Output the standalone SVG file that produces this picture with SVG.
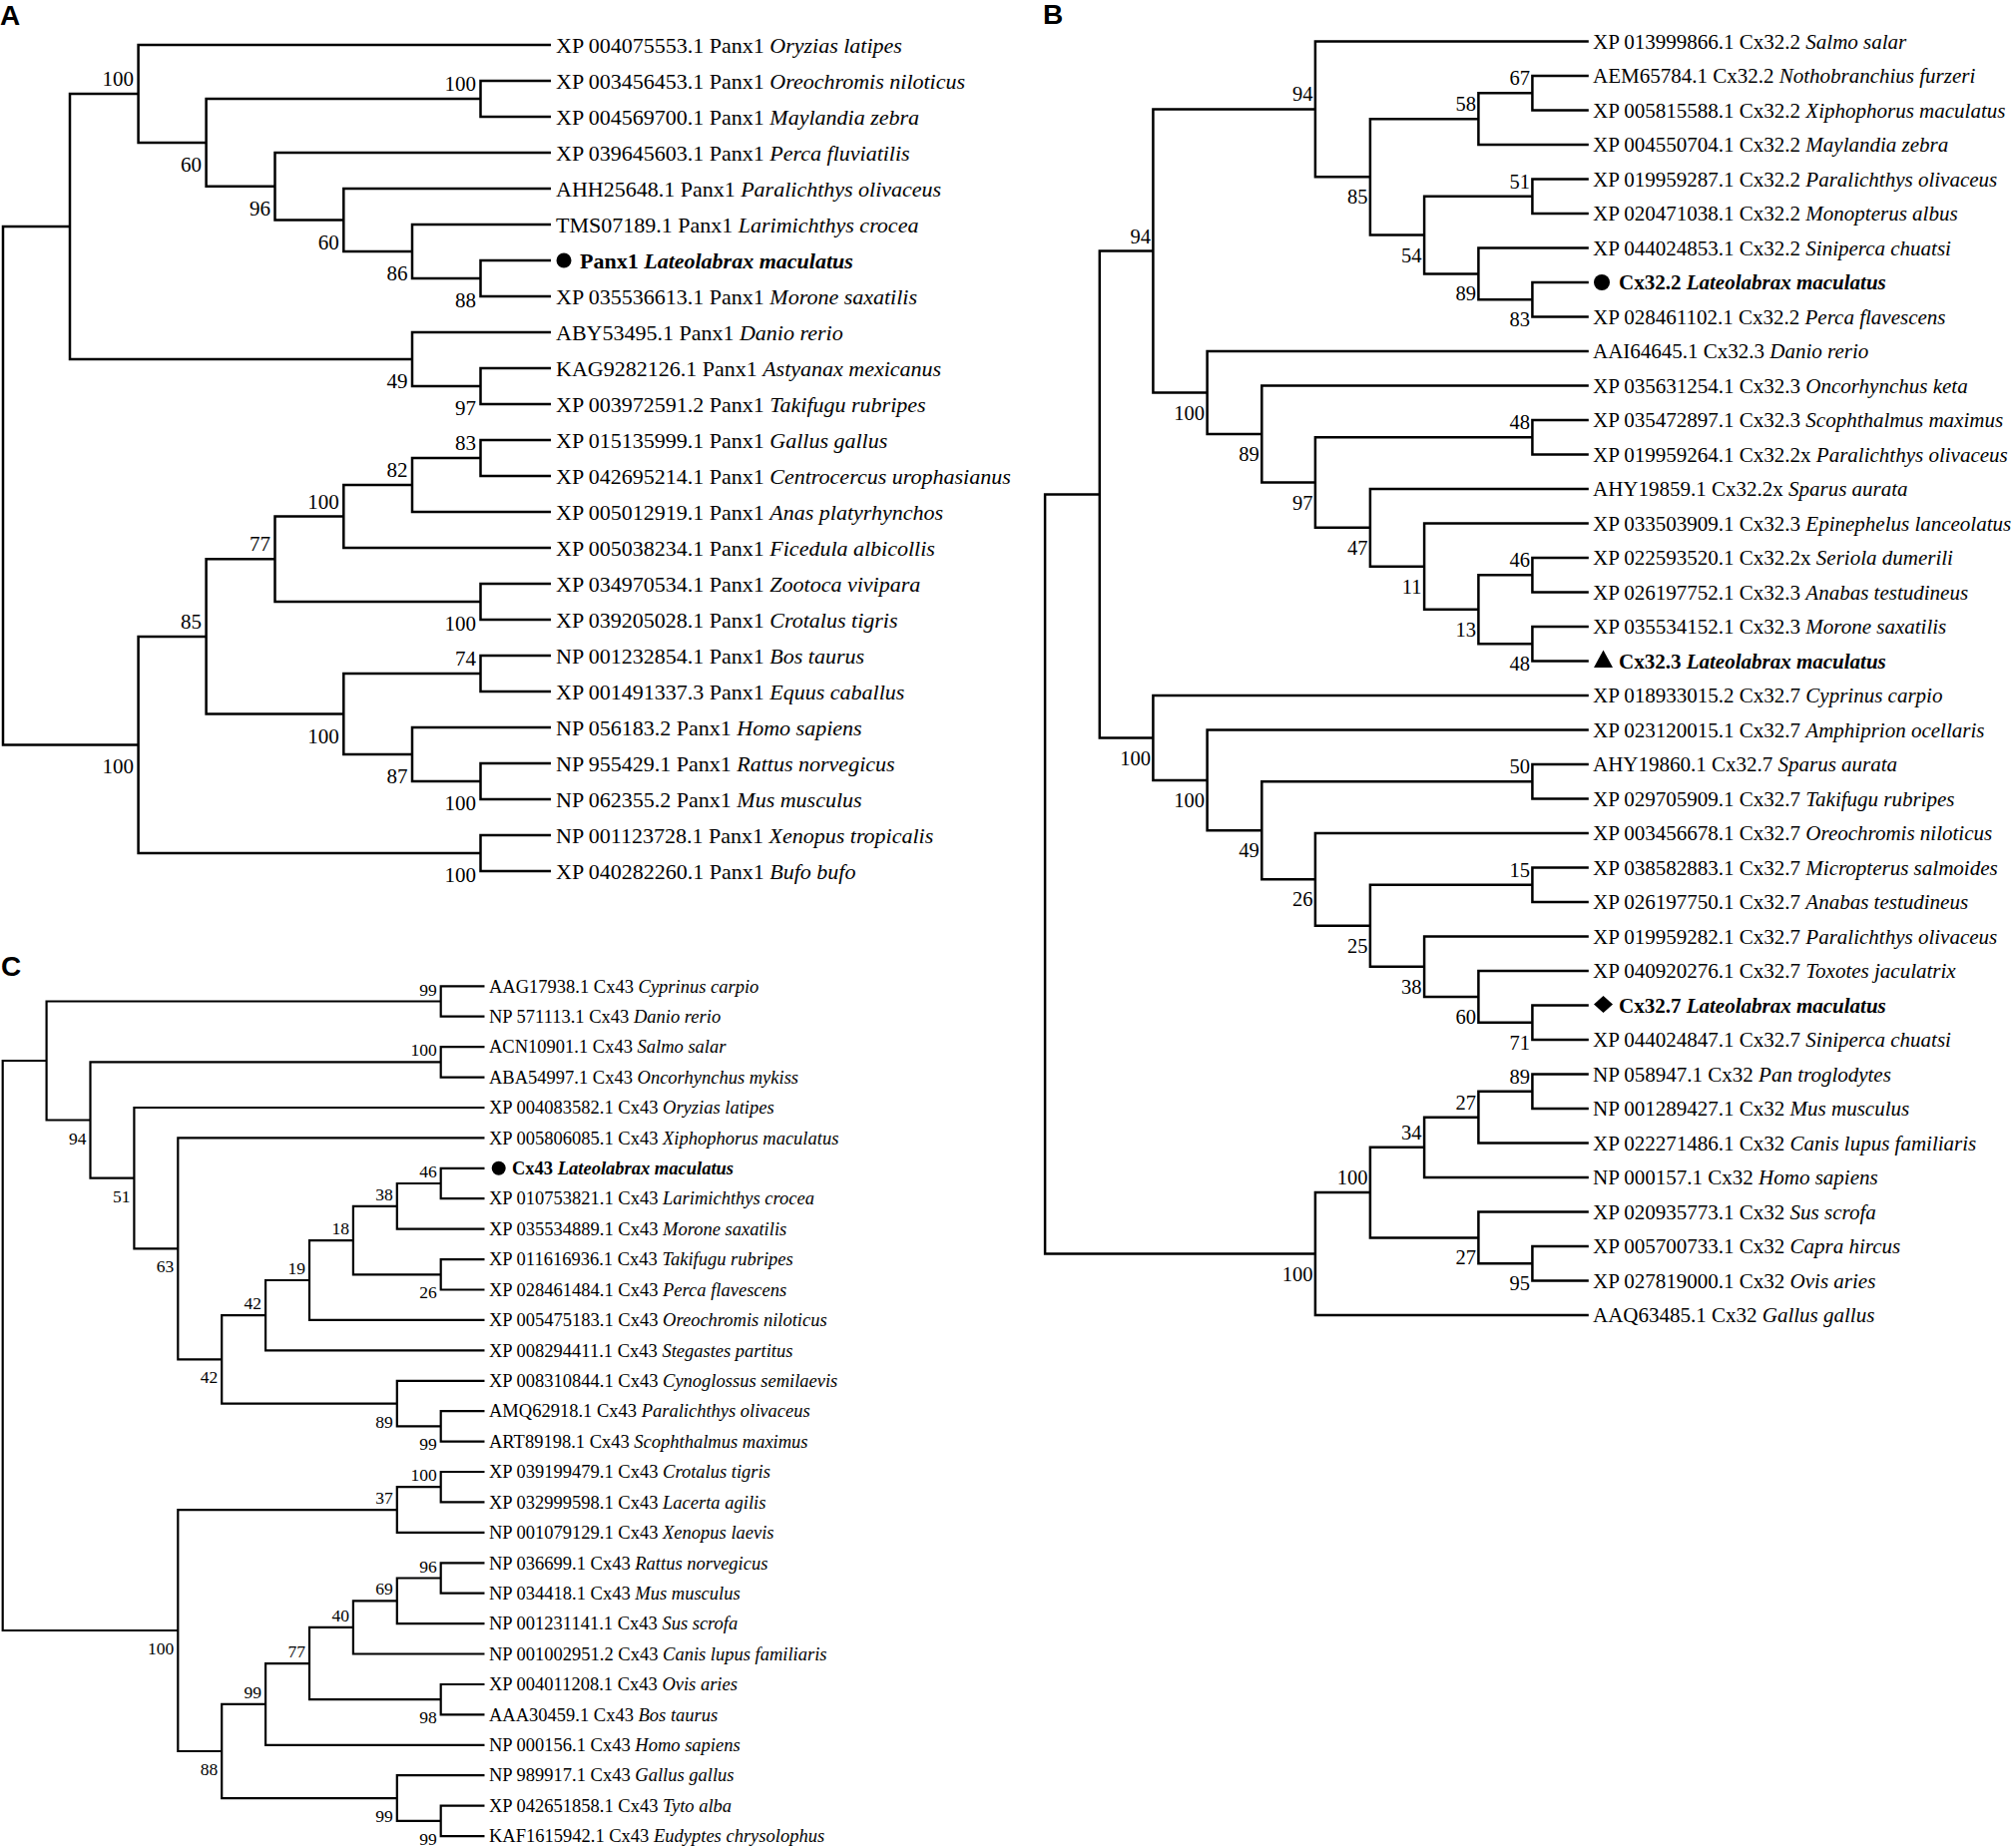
<svg xmlns="http://www.w3.org/2000/svg" width="2020" height="1850" viewBox="0 0 2020 1850">
<style>
.e{fill:none;stroke:#000;stroke-width:2.5;stroke-linejoin:miter}
.ec{fill:none;stroke:#000;stroke-width:2.2}
text{font-family:"Liberation Serif","Times New Roman",serif;fill:#000}
.la{font-size:22px}.lb{font-size:21px}.lc{font-size:18.5px}
.ba{font-size:21px;text-anchor:end}.bb{font-size:20.5px;text-anchor:end}.bc{font-size:17.5px;text-anchor:end}
.i{font-style:italic}.b{font-weight:bold}
.p{font-family:"Liberation Sans",Arial,sans-serif;font-weight:bold;font-size:28px}
</style>
<rect width="2020" height="1850" fill="#fff"/>
<text class="p" x="0" y="25">A</text>
<text class="p" x="1045" y="24">B</text>
<text class="p" x="1" y="978">C</text>

<g id="treeA-connectors">
<path class="e" d="M552 261H481.5V297H552"/>
<path class="e" d="M552 225H413V279H481.5"/>
<path class="e" d="M552 189H344.3V252H413"/>
<path class="e" d="M552 153H275.5V220.5H344.3"/>
<path class="e" d="M552 81H481.5V117H552"/>
<path class="e" d="M481.5 99H206.6V186.75H275.5"/>
<path class="e" d="M552 45H138.6V142.88H206.6"/>
<path class="e" d="M552 369H481.5V405H552"/>
<path class="e" d="M552 333H413V387H481.5"/>
<path class="e" d="M138.6 93.94H70V360H413"/>
<path class="e" d="M552 441H481.5V477H552"/>
<path class="e" d="M481.5 459H413V513H552"/>
<path class="e" d="M413 486H344.3V549H552"/>
<path class="e" d="M552 585H481.5V621H552"/>
<path class="e" d="M344.3 517.5H275.5V603H481.5"/>
<path class="e" d="M552 657H481.5V693H552"/>
<path class="e" d="M552 765H481.5V801H552"/>
<path class="e" d="M552 729H413V783H481.5"/>
<path class="e" d="M481.5 675H344.3V756H413"/>
<path class="e" d="M275.5 560.25H206.6V715.5H344.3"/>
<path class="e" d="M552 837H481.5V873H552"/>
<path class="e" d="M206.6 637.88H138.6V855H481.5"/>
<path class="e" d="M70 226.97H3V746.44H138.6"/>
</g>
<g id="treeA-support">
<text class="ba" x="134.1" y="85.9">100</text>
<text class="ba" x="202.1" y="171.9">60</text>
<text class="ba" x="477" y="91">100</text>
<text class="ba" x="271" y="215.75">96</text>
<text class="ba" x="339.8" y="249.5">60</text>
<text class="ba" x="408.5" y="281">86</text>
<text class="ba" x="477" y="308">88</text>
<text class="ba" x="408.5" y="389">49</text>
<text class="ba" x="477" y="416">97</text>
<text class="ba" x="477" y="451">83</text>
<text class="ba" x="408.5" y="478">82</text>
<text class="ba" x="339.8" y="509.5">100</text>
<text class="ba" x="271" y="552.25">77</text>
<text class="ba" x="202.1" y="629.9">85</text>
<text class="ba" x="477" y="632">100</text>
<text class="ba" x="477" y="667">74</text>
<text class="ba" x="339.8" y="744.5">100</text>
<text class="ba" x="408.5" y="785">87</text>
<text class="ba" x="477" y="812">100</text>
<text class="ba" x="477" y="884">100</text>
<text class="ba" x="134.1" y="775.4">100</text>
</g>
<g id="treeA-tips">
<g id="a0"><text class="la" x="557" y="52.5">XP 004075553.1 Panx1 <tspan class="i">Oryzias latipes</tspan></text></g>
<g id="a1"><text class="la" x="557" y="88.5">XP 003456453.1 Panx1 <tspan class="i">Oreochromis niloticus</tspan></text></g>
<g id="a2"><text class="la" x="557" y="124.5">XP 004569700.1 Panx1 <tspan class="i">Maylandia zebra</tspan></text></g>
<g id="a3"><text class="la" x="557" y="160.5">XP 039645603.1 Panx1 <tspan class="i">Perca fluviatilis</tspan></text></g>
<g id="a4"><text class="la" x="557" y="196.5">AHH25648.1 Panx1 <tspan class="i">Paralichthys olivaceus</tspan></text></g>
<g id="a5"><text class="la" x="557" y="232.5">TMS07189.1 Panx1 <tspan class="i">Larimichthys crocea</tspan></text></g>
<g id="a6"><circle cx="565" cy="261" r="7.5" fill="#000"/><text class="la b" x="581" y="268.5">Panx1 <tspan class="i">Lateolabrax maculatus</tspan></text></g>
<g id="a7"><text class="la" x="557" y="304.5">XP 035536613.1 Panx1 <tspan class="i">Morone saxatilis</tspan></text></g>
<g id="a8"><text class="la" x="557" y="340.5">ABY53495.1 Panx1 <tspan class="i">Danio rerio</tspan></text></g>
<g id="a9"><text class="la" x="557" y="376.5">KAG9282126.1 Panx1 <tspan class="i">Astyanax mexicanus</tspan></text></g>
<g id="a10"><text class="la" x="557" y="412.5">XP 003972591.2 Panx1 <tspan class="i">Takifugu rubripes</tspan></text></g>
<g id="a11"><text class="la" x="557" y="448.5">XP 015135999.1 Panx1 <tspan class="i">Gallus gallus</tspan></text></g>
<g id="a12"><text class="la" x="557" y="484.5">XP 042695214.1 Panx1 <tspan class="i">Centrocercus urophasianus</tspan></text></g>
<g id="a13"><text class="la" x="557" y="520.5">XP 005012919.1 Panx1 <tspan class="i">Anas platyrhynchos</tspan></text></g>
<g id="a14"><text class="la" x="557" y="556.5">XP 005038234.1 Panx1 <tspan class="i">Ficedula albicollis</tspan></text></g>
<g id="a15"><text class="la" x="557" y="592.5">XP 034970534.1 Panx1 <tspan class="i">Zootoca vivipara</tspan></text></g>
<g id="a16"><text class="la" x="557" y="628.5">XP 039205028.1 Panx1 <tspan class="i">Crotalus tigris</tspan></text></g>
<g id="a17"><text class="la" x="557" y="664.5">NP 001232854.1 Panx1 <tspan class="i">Bos taurus</tspan></text></g>
<g id="a18"><text class="la" x="557" y="700.5">XP 001491337.3 Panx1 <tspan class="i">Equus caballus</tspan></text></g>
<g id="a19"><text class="la" x="557" y="736.5">NP 056183.2 Panx1 <tspan class="i">Homo sapiens</tspan></text></g>
<g id="a20"><text class="la" x="557" y="772.5">NP 955429.1 Panx1 <tspan class="i">Rattus norvegicus</tspan></text></g>
<g id="a21"><text class="la" x="557" y="808.5">NP 062355.2 Panx1 <tspan class="i">Mus musculus</tspan></text></g>
<g id="a22"><text class="la" x="557" y="844.5">NP 001123728.1 Panx1 <tspan class="i">Xenopus tropicalis</tspan></text></g>
<g id="a23"><text class="la" x="557" y="880.5">XP 040282260.1 Panx1 <tspan class="i">Bufo bufo</tspan></text></g>
</g>

<g id="treeB-connectors">
<path class="e" d="M1591.8 76H1535.4V110.5H1591.8"/>
<path class="e" d="M1535.4 93.25H1481.4V145H1591.8"/>
<path class="e" d="M1591.8 179.5H1535.4V214H1591.8"/>
<path class="e" d="M1591.8 283H1535.4V317.5H1591.8"/>
<path class="e" d="M1591.8 248.5H1481.4V300.25H1535.4"/>
<path class="e" d="M1535.4 196.75H1427.1V274.38H1481.4"/>
<path class="e" d="M1481.4 119.13H1372.9V235.56H1427.1"/>
<path class="e" d="M1591.8 41.5H1317.9V177.34H1372.9"/>
<path class="e" d="M1591.8 421H1535.4V455.5H1591.8"/>
<path class="e" d="M1591.8 559H1535.4V593.5H1591.8"/>
<path class="e" d="M1591.8 628H1535.4V662.5H1591.8"/>
<path class="e" d="M1535.4 576.25H1481.4V645.25H1535.4"/>
<path class="e" d="M1591.8 524.5H1427.1V610.75H1481.4"/>
<path class="e" d="M1591.8 490H1372.9V567.63H1427.1"/>
<path class="e" d="M1535.4 438.25H1317.9V528.81H1372.9"/>
<path class="e" d="M1591.8 386.5H1264.3V483.53H1317.9"/>
<path class="e" d="M1591.8 352H1209.6V435.02H1264.3"/>
<path class="e" d="M1317.9 109.42H1155.4V393.51H1209.6"/>
<path class="e" d="M1591.8 766H1535.4V800.5H1591.8"/>
<path class="e" d="M1591.8 869.5H1535.4V904H1591.8"/>
<path class="e" d="M1591.8 1007.5H1535.4V1042H1591.8"/>
<path class="e" d="M1591.8 973H1481.4V1024.75H1535.4"/>
<path class="e" d="M1591.8 938.5H1427.1V998.88H1481.4"/>
<path class="e" d="M1535.4 886.75H1372.9V968.69H1427.1"/>
<path class="e" d="M1591.8 835H1317.9V927.72H1372.9"/>
<path class="e" d="M1535.4 783.25H1264.3V881.36H1317.9"/>
<path class="e" d="M1591.8 731.5H1209.6V832.3H1264.3"/>
<path class="e" d="M1591.8 697H1155.4V781.9H1209.6"/>
<path class="e" d="M1155.4 251.46H1101.8V739.45H1155.4"/>
<path class="e" d="M1591.8 1076.5H1535.4V1111H1591.8"/>
<path class="e" d="M1535.4 1093.75H1481.4V1145.5H1591.8"/>
<path class="e" d="M1481.4 1119.63H1427.1V1180H1591.8"/>
<path class="e" d="M1591.8 1249H1535.4V1283.5H1591.8"/>
<path class="e" d="M1591.8 1214.5H1481.4V1266.25H1535.4"/>
<path class="e" d="M1427.1 1149.81H1372.9V1240.38H1481.4"/>
<path class="e" d="M1372.9 1195.09H1317.9V1318H1591.8"/>
<path class="e" d="M1101.8 495.46H1047.1V1256.55H1317.9"/>
</g>
<g id="treeB-support">
<text class="bb" x="1315.4" y="101.4">94</text>
<text class="bb" x="1532.9" y="85.25">67</text>
<text class="bb" x="1478.9" y="111.1">58</text>
<text class="bb" x="1370.4" y="204.3">85</text>
<text class="bb" x="1532.9" y="188.75">51</text>
<text class="bb" x="1424.6" y="262.6">54</text>
<text class="bb" x="1478.9" y="301.4">89</text>
<text class="bb" x="1532.9" y="327.25">83</text>
<text class="bb" x="1152.9" y="243.5">94</text>
<text class="bb" x="1207.1" y="420.5">100</text>
<text class="bb" x="1261.8" y="462">89</text>
<text class="bb" x="1532.9" y="430.25">48</text>
<text class="bb" x="1315.4" y="510.5">97</text>
<text class="bb" x="1370.4" y="555.8">47</text>
<text class="bb" x="1532.9" y="568.25">46</text>
<text class="bb" x="1424.6" y="594.6">11</text>
<text class="bb" x="1478.9" y="637.75">13</text>
<text class="bb" x="1532.9" y="672.25">48</text>
<text class="bb" x="1152.9" y="766.5">100</text>
<text class="bb" x="1207.1" y="808.9">100</text>
<text class="bb" x="1532.9" y="775.25">50</text>
<text class="bb" x="1261.8" y="859.3">49</text>
<text class="bb" x="1315.4" y="908.4">26</text>
<text class="bb" x="1532.9" y="878.75">15</text>
<text class="bb" x="1370.4" y="954.7">25</text>
<text class="bb" x="1424.6" y="995.7">38</text>
<text class="bb" x="1478.9" y="1025.9">60</text>
<text class="bb" x="1532.9" y="1051.75">71</text>
<text class="bb" x="1532.9" y="1085.75">89</text>
<text class="bb" x="1478.9" y="1111.6">27</text>
<text class="bb" x="1424.6" y="1141.8">34</text>
<text class="bb" x="1370.4" y="1187.1">100</text>
<text class="bb" x="1478.9" y="1267.4">27</text>
<text class="bb" x="1532.9" y="1293.25">95</text>
<text class="bb" x="1315.4" y="1283.55">100</text>
</g>
<g id="treeB-tips">
<g id="b0"><text class="lb" x="1596" y="48.5">XP 013999866.1 Cx32.2 <tspan class="i">Salmo salar</tspan></text></g>
<g id="b1"><text class="lb" x="1596" y="83">AEM65784.1 Cx32.2 <tspan class="i">Nothobranchius furzeri</tspan></text></g>
<g id="b2"><text class="lb" x="1596" y="117.5">XP 005815588.1 Cx32.2 <tspan class="i">Xiphophorus maculatus</tspan></text></g>
<g id="b3"><text class="lb" x="1596" y="152">XP 004550704.1 Cx32.2 <tspan class="i">Maylandia zebra</tspan></text></g>
<g id="b4"><text class="lb" x="1596" y="186.5">XP 019959287.1 Cx32.2 <tspan class="i">Paralichthys olivaceus</tspan></text></g>
<g id="b5"><text class="lb" x="1596" y="221">XP 020471038.1 Cx32.2 <tspan class="i">Monopterus albus</tspan></text></g>
<g id="b6"><text class="lb" x="1596" y="255.5">XP 044024853.1 Cx32.2 <tspan class="i">Siniperca chuatsi</tspan></text></g>
<g id="b7"><circle cx="1605" cy="283" r="8" fill="#000"/><text class="lb b" x="1622" y="290">Cx32.2 <tspan class="i">Lateolabrax maculatus</tspan></text></g>
<g id="b8"><text class="lb" x="1596" y="324.5">XP 028461102.1 Cx32.2 <tspan class="i">Perca flavescens</tspan></text></g>
<g id="b9"><text class="lb" x="1596" y="359">AAI64645.1 Cx32.3 <tspan class="i">Danio rerio</tspan></text></g>
<g id="b10"><text class="lb" x="1596" y="393.5">XP 035631254.1 Cx32.3 <tspan class="i">Oncorhynchus keta</tspan></text></g>
<g id="b11"><text class="lb" x="1596" y="428">XP 035472897.1 Cx32.3 <tspan class="i">Scophthalmus maximus</tspan></text></g>
<g id="b12"><text class="lb" x="1596" y="462.5">XP 019959264.1 Cx32.2x <tspan class="i">Paralichthys olivaceus</tspan></text></g>
<g id="b13"><text class="lb" x="1596" y="497">AHY19859.1 Cx32.2x <tspan class="i">Sparus aurata</tspan></text></g>
<g id="b14"><text class="lb" x="1596" y="531.5">XP 033503909.1 Cx32.3 <tspan class="i">Epinephelus lanceolatus</tspan></text></g>
<g id="b15"><text class="lb" x="1596" y="566">XP 022593520.1 Cx32.2x <tspan class="i">Seriola dumerili</tspan></text></g>
<g id="b16"><text class="lb" x="1596" y="600.5">XP 026197752.1 Cx32.3 <tspan class="i">Anabas testudineus</tspan></text></g>
<g id="b17"><text class="lb" x="1596" y="635">XP 035534152.1 Cx32.3 <tspan class="i">Morone saxatilis</tspan></text></g>
<g id="b18"><polygon points="1597,669 1616,669 1606.5,651.5" fill="#000"/><text class="lb b" x="1622" y="669.5">Cx32.3 <tspan class="i">Lateolabrax maculatus</tspan></text></g>
<g id="b19"><text class="lb" x="1596" y="704">XP 018933015.2 Cx32.7 <tspan class="i">Cyprinus carpio</tspan></text></g>
<g id="b20"><text class="lb" x="1596" y="738.5">XP 023120015.1 Cx32.7 <tspan class="i">Amphiprion ocellaris</tspan></text></g>
<g id="b21"><text class="lb" x="1596" y="773">AHY19860.1 Cx32.7 <tspan class="i">Sparus aurata</tspan></text></g>
<g id="b22"><text class="lb" x="1596" y="807.5">XP 029705909.1 Cx32.7 <tspan class="i">Takifugu rubripes</tspan></text></g>
<g id="b23"><text class="lb" x="1596" y="842">XP 003456678.1 Cx32.7 <tspan class="i">Oreochromis niloticus</tspan></text></g>
<g id="b24"><text class="lb" x="1596" y="876.5">XP 038582883.1 Cx32.7 <tspan class="i">Micropterus salmoides</tspan></text></g>
<g id="b25"><text class="lb" x="1596" y="911">XP 026197750.1 Cx32.7 <tspan class="i">Anabas testudineus</tspan></text></g>
<g id="b26"><text class="lb" x="1596" y="945.5">XP 019959282.1 Cx32.7 <tspan class="i">Paralichthys olivaceus</tspan></text></g>
<g id="b27"><text class="lb" x="1596" y="980">XP 040920276.1 Cx32.7 <tspan class="i">Toxotes jaculatrix</tspan></text></g>
<g id="b28"><polygon points="1606.5,998 1616,1006.5 1606.5,1015 1597,1006.5" fill="#000"/><text class="lb b" x="1622" y="1014.5">Cx32.7 <tspan class="i">Lateolabrax maculatus</tspan></text></g>
<g id="b29"><text class="lb" x="1596" y="1049">XP 044024847.1 Cx32.7 <tspan class="i">Siniperca chuatsi</tspan></text></g>
<g id="b30"><text class="lb" x="1596" y="1083.5">NP 058947.1 Cx32 <tspan class="i">Pan troglodytes</tspan></text></g>
<g id="b31"><text class="lb" x="1596" y="1118">NP 001289427.1 Cx32 <tspan class="i">Mus musculus</tspan></text></g>
<g id="b32"><text class="lb" x="1596" y="1152.5">XP 022271486.1 Cx32 <tspan class="i">Canis lupus familiaris</tspan></text></g>
<g id="b33"><text class="lb" x="1596" y="1187">NP 000157.1 Cx32 <tspan class="i">Homo sapiens</tspan></text></g>
<g id="b34"><text class="lb" x="1596" y="1221.5">XP 020935773.1 Cx32 <tspan class="i">Sus scrofa</tspan></text></g>
<g id="b35"><text class="lb" x="1596" y="1256">XP 005700733.1 Cx32 <tspan class="i">Capra hircus</tspan></text></g>
<g id="b36"><text class="lb" x="1596" y="1290.5">XP 027819000.1 Cx32 <tspan class="i">Ovis aries</tspan></text></g>
<g id="b37"><text class="lb" x="1596" y="1325">AAQ63485.1 Cx32 <tspan class="i">Gallus gallus</tspan></text></g>
</g>

<g id="treeC-connectors">
<path class="ec" d="M485.5 988.3H441.7V1018.7H485.5"/>
<path class="ec" d="M485.5 1049.1H441.7V1079.6H485.5"/>
<path class="ec" d="M485.5 1170.8H441.7V1201.2H485.5"/>
<path class="ec" d="M441.7 1186H397.8V1231.7H485.5"/>
<path class="ec" d="M485.5 1262.1H441.7V1292.5H485.5"/>
<path class="ec" d="M397.8 1208.85H353.9V1277.3H441.7"/>
<path class="ec" d="M353.9 1243.08H310V1322.9H485.5"/>
<path class="ec" d="M310 1282.99H266.1V1353.3H485.5"/>
<path class="ec" d="M485.5 1414.2H441.7V1444.6H485.5"/>
<path class="ec" d="M485.5 1383.8H397.8V1429.4H441.7"/>
<path class="ec" d="M266.1 1318.15H222.2V1406.6H397.8"/>
<path class="ec" d="M485.5 1140.4H178.3V1362.38H222.2"/>
<path class="ec" d="M485.5 1110H134.4V1251.39H178.3"/>
<path class="ec" d="M441.7 1064.35H90.5V1180.7H134.4"/>
<path class="ec" d="M441.7 1003.5H46.6V1122.5H90.5"/>
<path class="ec" d="M485.5 1475H441.7V1505.4H485.5"/>
<path class="ec" d="M441.7 1490.2H397.8V1535.9H485.5"/>
<path class="ec" d="M485.5 1566.3H441.7V1596.7H485.5"/>
<path class="ec" d="M441.7 1581.5H397.8V1627.1H485.5"/>
<path class="ec" d="M397.8 1604.3H353.9V1657.5H485.5"/>
<path class="ec" d="M485.5 1688H441.7V1718.4H485.5"/>
<path class="ec" d="M353.9 1630.9H310V1703.2H441.7"/>
<path class="ec" d="M310 1667.05H266.1V1748.8H485.5"/>
<path class="ec" d="M485.5 1809.6H441.7V1840.1H485.5"/>
<path class="ec" d="M485.5 1779.2H397.8V1824.85H441.7"/>
<path class="ec" d="M266.1 1707.93H222.2V1802.03H397.8"/>
<path class="ec" d="M397.8 1513.05H178.3V1754.98H222.2"/>
<path class="ec" d="M46.6 1063H2.7V1634H178.3"/>
</g>
<g id="treeC-support">
<text class="bc" x="437.7" y="997.5">99</text>
<text class="bc" x="437.7" y="1058.35">100</text>
<text class="bc" x="86.5" y="1146.5">94</text>
<text class="bc" x="130.4" y="1204.7">51</text>
<text class="bc" x="174.3" y="1275.4">63</text>
<text class="bc" x="437.7" y="1180">46</text>
<text class="bc" x="393.8" y="1202.85">38</text>
<text class="bc" x="349.9" y="1237.1">18</text>
<text class="bc" x="306" y="1277">19</text>
<text class="bc" x="437.7" y="1301.3">26</text>
<text class="bc" x="262.1" y="1312.15">42</text>
<text class="bc" x="218.2" y="1386.4">42</text>
<text class="bc" x="393.8" y="1430.6">89</text>
<text class="bc" x="437.7" y="1453.4">99</text>
<text class="bc" x="437.7" y="1484.2">100</text>
<text class="bc" x="393.8" y="1507.05">37</text>
<text class="bc" x="174.3" y="1658">100</text>
<text class="bc" x="437.7" y="1575.5">96</text>
<text class="bc" x="393.8" y="1598.3">69</text>
<text class="bc" x="349.9" y="1624.9">40</text>
<text class="bc" x="306" y="1661.05">77</text>
<text class="bc" x="262.1" y="1701.9">99</text>
<text class="bc" x="437.7" y="1727.2">98</text>
<text class="bc" x="218.2" y="1779">88</text>
<text class="bc" x="393.8" y="1826">99</text>
<text class="bc" x="437.7" y="1848.85">99</text>
</g>
<g id="treeC-tips">
<g id="c0"><text class="lc" x="490" y="994.5">AAG17938.1 Cx43 <tspan class="i">Cyprinus carpio</tspan></text></g>
<g id="c1"><text class="lc" x="490" y="1024.9">NP 571113.1 Cx43 <tspan class="i">Danio rerio</tspan></text></g>
<g id="c2"><text class="lc" x="490" y="1055.3">ACN10901.1 Cx43 <tspan class="i">Salmo salar</tspan></text></g>
<g id="c3"><text class="lc" x="490" y="1085.8">ABA54997.1 Cx43 <tspan class="i">Oncorhynchus mykiss</tspan></text></g>
<g id="c4"><text class="lc" x="490" y="1116.2">XP 004083582.1 Cx43 <tspan class="i">Oryzias latipes</tspan></text></g>
<g id="c5"><text class="lc" x="490" y="1146.6">XP 005806085.1 Cx43 <tspan class="i">Xiphophorus maculatus</tspan></text></g>
<g id="c6"><circle cx="499.7" cy="1170.8" r="7" fill="#000"/><text class="lc b" x="513" y="1177">Cx43 <tspan class="i">Lateolabrax maculatus</tspan></text></g>
<g id="c7"><text class="lc" x="490" y="1207.4">XP 010753821.1 Cx43 <tspan class="i">Larimichthys crocea</tspan></text></g>
<g id="c8"><text class="lc" x="490" y="1237.9">XP 035534889.1 Cx43 <tspan class="i">Morone saxatilis</tspan></text></g>
<g id="c9"><text class="lc" x="490" y="1268.3">XP 011616936.1 Cx43 <tspan class="i">Takifugu rubripes</tspan></text></g>
<g id="c10"><text class="lc" x="490" y="1298.7">XP 028461484.1 Cx43 <tspan class="i">Perca flavescens</tspan></text></g>
<g id="c11"><text class="lc" x="490" y="1329.1">XP 005475183.1 Cx43 <tspan class="i">Oreochromis niloticus</tspan></text></g>
<g id="c12"><text class="lc" x="490" y="1359.5">XP 008294411.1 Cx43 <tspan class="i">Stegastes partitus</tspan></text></g>
<g id="c13"><text class="lc" x="490" y="1390">XP 008310844.1 Cx43 <tspan class="i">Cynoglossus semilaevis</tspan></text></g>
<g id="c14"><text class="lc" x="490" y="1420.4">AMQ62918.1 Cx43 <tspan class="i">Paralichthys olivaceus</tspan></text></g>
<g id="c15"><text class="lc" x="490" y="1450.8">ART89198.1 Cx43 <tspan class="i">Scophthalmus maximus</tspan></text></g>
<g id="c16"><text class="lc" x="490" y="1481.2">XP 039199479.1 Cx43 <tspan class="i">Crotalus tigris</tspan></text></g>
<g id="c17"><text class="lc" x="490" y="1511.6">XP 032999598.1 Cx43 <tspan class="i">Lacerta agilis</tspan></text></g>
<g id="c18"><text class="lc" x="490" y="1542.1">NP 001079129.1 Cx43 <tspan class="i">Xenopus laevis</tspan></text></g>
<g id="c19"><text class="lc" x="490" y="1572.5">NP 036699.1 Cx43 <tspan class="i">Rattus norvegicus</tspan></text></g>
<g id="c20"><text class="lc" x="490" y="1602.9">NP 034418.1 Cx43 <tspan class="i">Mus musculus</tspan></text></g>
<g id="c21"><text class="lc" x="490" y="1633.3">NP 001231141.1 Cx43 <tspan class="i">Sus scrofa</tspan></text></g>
<g id="c22"><text class="lc" x="490" y="1663.7">NP 001002951.2 Cx43 <tspan class="i">Canis lupus familiaris</tspan></text></g>
<g id="c23"><text class="lc" x="490" y="1694.2">XP 004011208.1 Cx43 <tspan class="i">Ovis aries</tspan></text></g>
<g id="c24"><text class="lc" x="490" y="1724.6">AAA30459.1 Cx43 <tspan class="i">Bos taurus</tspan></text></g>
<g id="c25"><text class="lc" x="490" y="1755">NP 000156.1 Cx43 <tspan class="i">Homo sapiens</tspan></text></g>
<g id="c26"><text class="lc" x="490" y="1785.4">NP 989917.1 Cx43 <tspan class="i">Gallus gallus</tspan></text></g>
<g id="c27"><text class="lc" x="490" y="1815.8">XP 042651858.1 Cx43 <tspan class="i">Tyto alba</tspan></text></g>
<g id="c28"><text class="lc" x="490" y="1846.3">KAF1615942.1 Cx43 <tspan class="i">Eudyptes chrysolophus</tspan></text></g>
</g>
</svg>
